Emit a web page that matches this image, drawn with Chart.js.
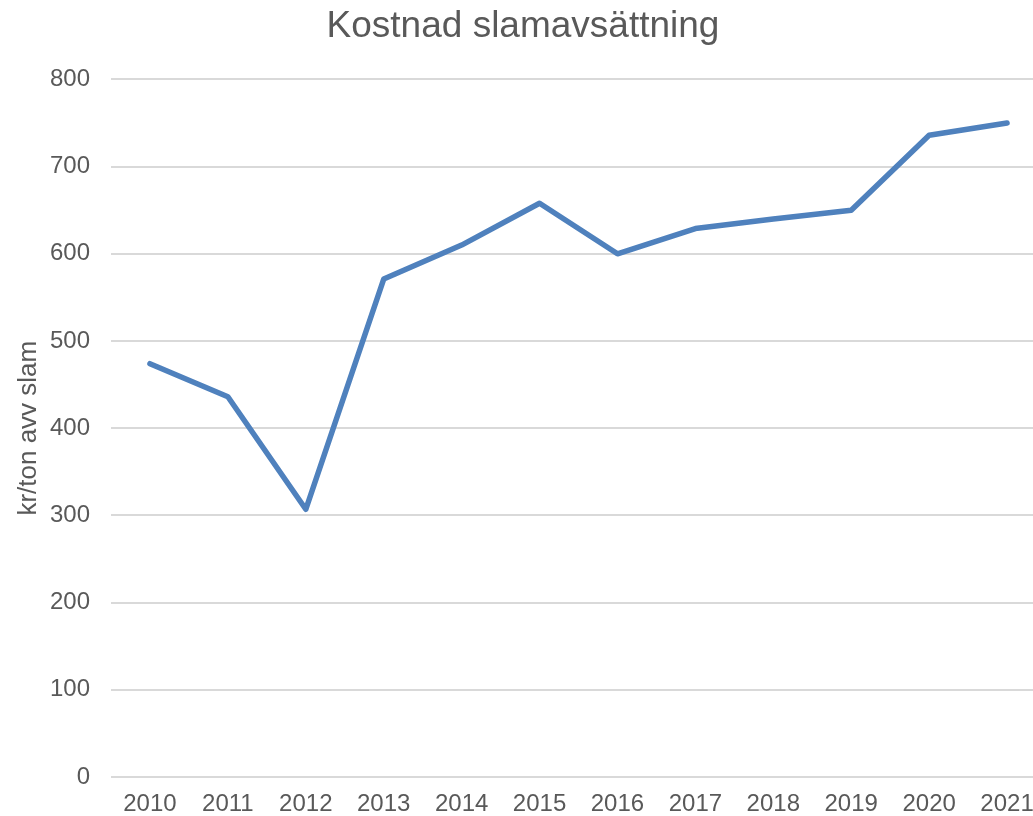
<!DOCTYPE html>
<html>
<head>
<meta charset="utf-8">
<script src="https://cdn.jsdelivr.net/npm/chart.js@4"></script>
<style>
html,body{margin:0;padding:0;overflow:hidden;background:#fff;}
#wrap{width:1048px;height:816px;}
</style>
</head>
<body>
<div id="wrap"><canvas id="c" width="1048" height="816"></canvas></div>
<script>
const categories = ['2010','2011','2012','2013','2014','2015','2016','2017','2018','2019','2020','2021'];
const costValues = [474, 436, 307, 571, 610, 658, 600, 629, 640, 650, 736, 750];
const yTicks = [0, 100, 200, 300, 400, 500, 600, 700, 800];
const titleText = 'Kostnad slamavsättning';
const yTitleText = 'kr/ton avv slam';

const FONT = '"Liberation Sans", Arial, sans-serif';
const TXT = '#595959';

new Chart(document.getElementById('c'), {
  type: 'line',
  data: {
    labels: categories,
    datasets: [{
      data: costValues,
      borderColor: '#4F81BD',
      borderWidth: 5.5,
      pointRadius: 0,
      tension: 0,
      fill: false,
      borderCapStyle: 'round',
      borderJoinStyle: 'round'
    }]
  },
  options: {
    responsive: false,
    animation: false,
    layout: { padding: { top: 0, right: 2, bottom: 0, left: 0 } },
    plugins: {
      legend: { display: false },
      tooltip: { enabled: false },
      title: {
        display: true,
        text: titleText,
        color: TXT,
        font: { family: FONT, size: 37, weight: 'normal', lineHeight: 1.2 },
        padding: { top: 5, bottom: 30 }
      }
    },
    scales: {
      x: {
        offset: true,
        grid: { display: false, drawTicks: false },
        border: { display: false },
        ticks: {
          color: TXT, font: { family: FONT, size: 24 },
          maxRotation: 0, autoSkip: false, padding: 13
        },
        afterFit(a) { a.height = 39; }
      },
      y: {
        min: 0, max: 800,
        afterBuildTicks(a) { a.ticks = yTicks.map(v => ({ value: v })); },
        grid: { color: '#d9d9d9', lineWidth: 2, drawTicks: false },
        border: { display: false },
        ticks: { color: TXT, font: { family: FONT, size: 24 }, padding: 21 },
        title: {
          display: true, text: yTitleText, color: TXT,
          font: { family: FONT, size: 26 }, padding: { top: 13 }
        },
        afterFit(a) { a.width = 111; }
      }
    }
  }
});
</script>
</body>
</html>
